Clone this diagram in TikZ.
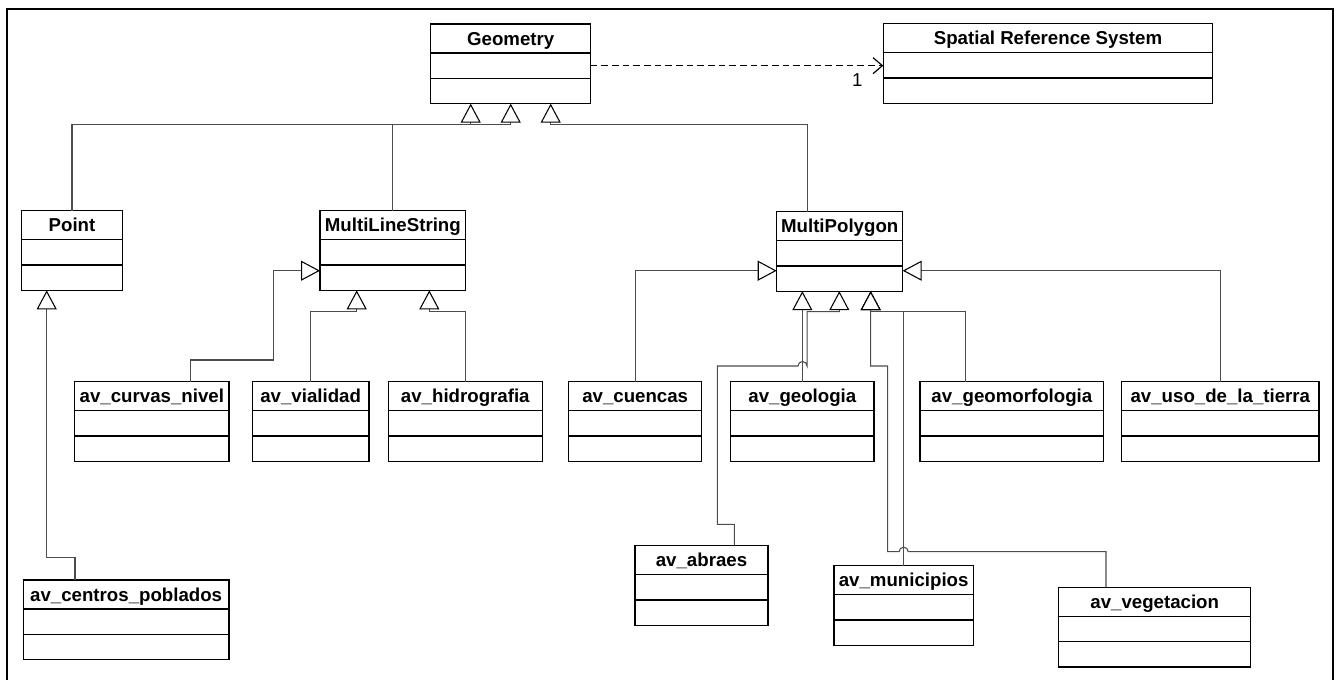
\documentclass[tikz,border=0pt]{standalone}
\usepackage{fontspec}
\setmainfont{Liberation Sans}
\usetikzlibrary{arrows.meta,positioning}

% one class box: name, left, top, width (px), title
\newcommand{\umlclass}[5]{%
  \node[classhead, minimum width=#4*0.75pt, anchor=north west] (#1) at (#2,#3) {#5};
  \node[classpart, minimum width=#4*0.75pt, below=0pt of #1] (#1-a) {};
  \node[classpart, minimum width=#4*0.75pt, below=0pt of #1-a] (#1-b) {};}

\tikzset{
  classhead/.style={draw, line width=1pt, inner sep=0pt, outer sep=0pt,
    minimum height=21.75pt, text height=10pt, text depth=0pt,
    font=\bfseries\fontsize{14}{16}\selectfont},
  classpart/.style={draw, line width=1pt, inner sep=0pt, outer sep=0pt,
    minimum height=19pt},
  gen/.style={draw=black!70, line width=0.8pt,
    -{Triangle[open, fill=white, color=black, length=14.25pt, width=15pt]}},
  assoc/.style={draw=black, line width=1.2pt, dash pattern=on 5pt off 3pt,
    -{Straight Barb[length=7pt, width=12pt, line width=0.9pt]}},
}

\begin{document}
\begin{tikzpicture}[x=0.75pt, y=-0.75pt]
  \useasboundingbox (0,0) rectangle (1339,679);

  % frame
  \draw[line width=1.5pt] (7,690) |- (1333.3,8.7) -- (1333.3,690);

  % classes
  \umlclass{geom}{430.7}{24}{160}{Geometry}
  \umlclass{srs}{883.3}{23.5}{329.4}{Spatial Reference System}
  \umlclass{point}{21.3}{210.7}{101.4}{Point}
  \umlclass{mls}{320}{210.7}{145.7}{MultiLineString}
  \umlclass{mpoly}{776.7}{211.5}{126}{MultiPolygon}
  \umlclass{curvas}{74.7}{381.7}{154.3}{av\_curvas\_nivel}
  \umlclass{vialidad}{252.3}{381.7}{116.7}{av\_vialidad}
  \umlclass{hidro}{388.3}{381.7}{154}{av\_hidrografia}
  \umlclass{cuencas}{568.7}{381.7}{133}{av\_cuencas}
  \umlclass{geologia}{730.7}{381.7}{143.3}{av\_geologia}
  \umlclass{geomorf}{920}{381.7}{183.7}{av\_geomorfologia}
  \umlclass{uso}{1121.7}{381.7}{197.3}{av\_uso\_de\_la\_tierra}
  \umlclass{centros}{23.3}{580}{205.7}{av\_centros\_poblados}
  \umlclass{abraes}{635}{545.7}{133}{av\_abraes}
  \umlclass{munic}{834}{565.7}{139.3}{av\_municipios}
  \umlclass{veget}{1058.7}{587.3}{192}{av\_vegetacion}

  % triangle tips
  \coordinate (gt1) at (470.7,0 |- geom-b.south);
  \coordinate (gt2) at (510.7,0 |- geom-b.south);
  \coordinate (gt3) at (550.7,0 |- geom-b.south);
  \coordinate (pt) at (46.7,0 |- point-b.south);
  \coordinate (mlsl) at (mls-b.west |- 0,270.7);
  \coordinate (mlst1) at (356.7,0 |- mls-b.south);
  \coordinate (mlst2) at (429.3,0 |- mls-b.south);
  \coordinate (mpl) at (mpoly-b.west |- 0,270.7);
  \coordinate (mpr) at (mpoly-b.east |- 0,270.7);
  \coordinate (mpt2) at (839.3,0 |- mpoly-b.south);
  \coordinate (mpt3) at (870.7,0 |- mpoly-b.south);

  % association
  \draw[assoc] (geom-a.east) -- (geom-a.east -| srs-a.west)
    node[pos=1, anchor=north east, inner sep=0pt, xshift=-15pt, yshift=-5.5pt,
      font=\fontsize{14}{16}\selectfont] {1};

  % generalizations to Geometry
  \draw[gen] (point.north) |- (470.7,124.7) -- (gt1);
  \draw[gen] (mls.north) |- (510.7,124.7) -- (gt2);
  \draw[gen] (807.7,0 |- mpoly.north) |- (550.7,124.7) -- (gt3);

  % to Point
  \draw[gen] (75,0 |- centros.north) |- (46.7,557.7) -- (pt);

  % to MultiLineString
  \draw[gen] (190.7,0 |- curvas.north) |- (273.3,360) |- (mlsl);
  \draw[gen] (vialidad.north) |- (356.7,311.7) -- (mlst1);
  \draw[gen] (hidro.north) |- (429.3,311.7) -- (mlst2);

  % to MultiPolygon
  \draw[gen] (cuencas.north) |- (mpl);
  \draw[gen] (uso.north) |- (mpr);
  \draw[gen] (geologia.north) -- (geologia.north |- mpoly-b.south);
  \draw[gen] (734.3,0 |- abraes.north) |- (717.3,524.3) |- (798,366)
    arc[start angle=180, end angle=0, radius=3.4pt] |- (839.3,311.7) -- (mpt2);
  \draw[gen] (965.7,0 |- geomorf.north) |- (870.7,311.7) -- (mpt3);
  \draw[gen] (munic.north) |- (870.7,311.7) -- (mpt3);
  \draw[gen] (1106,0 |- veget.north) -- (1106,551.7) -- (908.2,551.7)
    arc[start angle=0, end angle=180, radius=3.4pt] -- (887.7,551.7)
    |- (870.7,366) -- (mpt3);
\end{tikzpicture}
\end{document}
